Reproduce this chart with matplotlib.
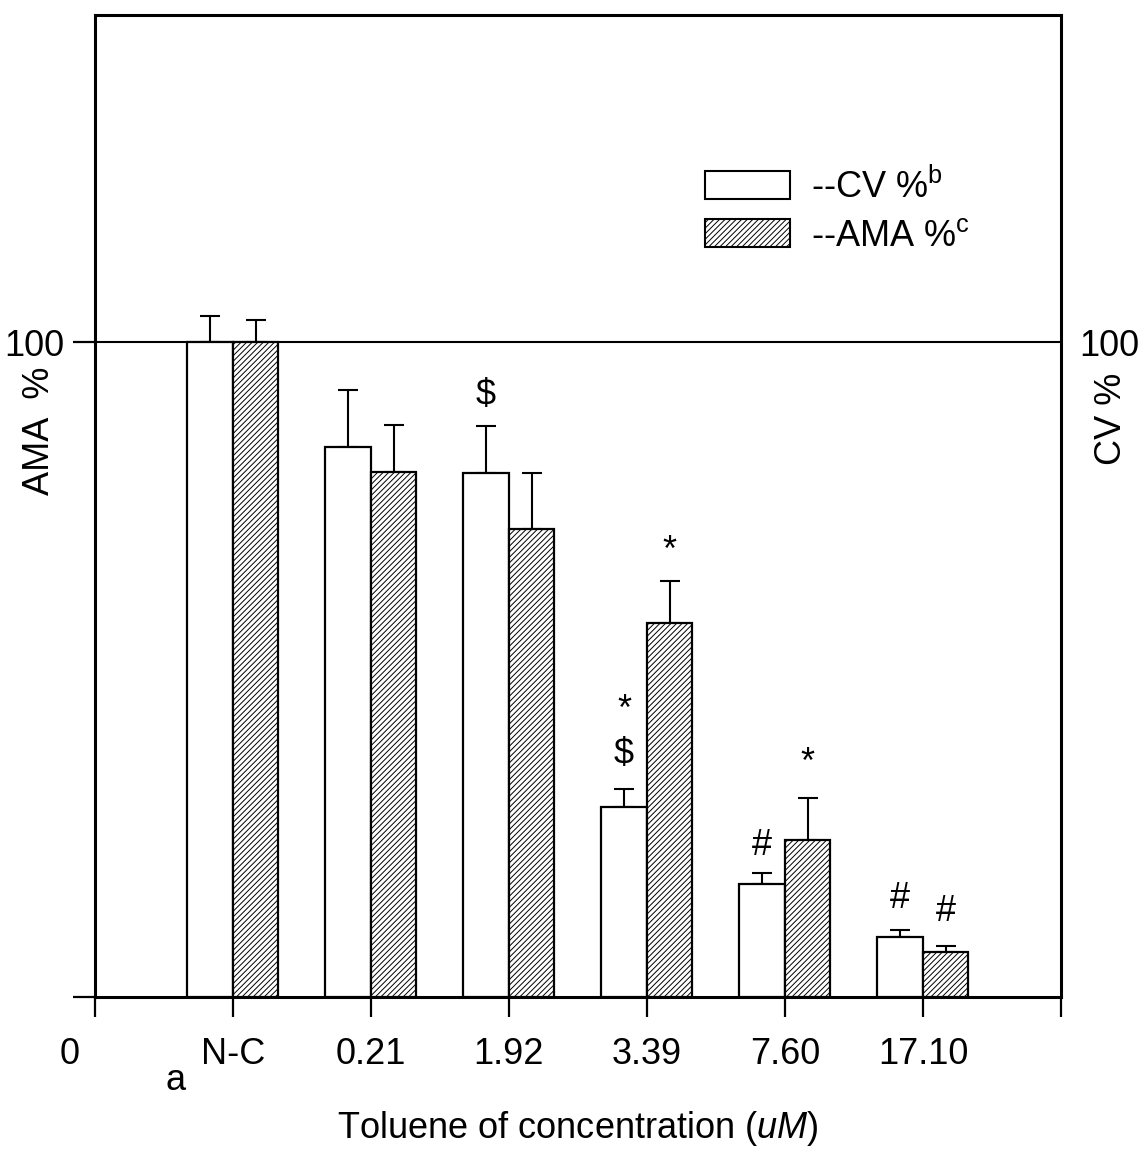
import matplotlib
matplotlib.use("Agg")
import matplotlib.pyplot as plt
from matplotlib.patches import Patch
import numpy as np

plt.rcParams['font.family'] = ['Liberation Sans', 'DejaVu Sans']
plt.rcParams['mathtext.fontset'] = 'custom'
plt.rcParams['mathtext.rm'] = 'Liberation Sans'
plt.rcParams['mathtext.it'] = 'Liberation Sans:italic'
plt.rcParams['hatch.linewidth'] = 0.7

# data
groups = ['N-C', '0.21', '1.92', '3.39', '7.60', '17.10']
cv = [100, 84.0, 80.0, 29.0, 17.3, 9.2]
cv_err = [4.0, 8.7, 7.2, 2.8, 1.7, 1.0]
ama = [100, 80.2, 71.5, 57.1, 24.0, 6.9]
ama_err = [3.4, 7.2, 8.5, 6.4, 6.4, 0.9]
# significance marks: (group index, series, y, symbol)
marks = [(2, 'cv', 91.9, '$'), (3, 'cv', 37.0, '$'), (3, 'cv', 43.8, '*'),
         (3, 'ama', 68.0, '*'), (4, 'cv', 23.2, '#'), (4, 'ama', 35.6, '*'),
         (5, 'cv', 15.1, '#'), (5, 'ama', 13.0, '#')]

fs = 26
w = 0.33
x = np.arange(1, len(groups) + 1)

fig = plt.figure(figsize=(11.44, 11.74), dpi=100)
ax = fig.add_axes([0.0830, 0.1508, 0.8444, 0.8365])

ax.bar(x - w / 2, cv, w, color='white', edgecolor='black', linewidth=1.6, zorder=3)
ax.bar(x + w / 2, ama, w, color='white', edgecolor='black', linewidth=1.6,
       hatch='//////', zorder=3)
ax.errorbar(x - w / 2, cv, yerr=[np.zeros(len(cv)), cv_err], fmt='none',
            ecolor='black', elinewidth=1.5, capsize=7.2, capthick=1.5, zorder=2)
ax.errorbar(x + w / 2, ama, yerr=[np.zeros(len(ama)), ama_err], fmt='none',
            ecolor='black', elinewidth=1.5, capsize=7.2, capthick=1.5, zorder=2)
ax.axhline(100, color='black', lw=1.5, zorder=1)

for gi, ser, yv, sym in marks:
    xx = x[gi] - w / 2 if ser == 'cv' else x[gi] + w / 2
    ax.text(xx, yv, sym, ha='center', va='center', fontsize=fs)

ax.set_xlim(0, 7)
ax.set_ylim(0, 150)
ax.set_xticks(np.arange(0, 8))
ax.set_xticklabels([''] + groups + [''], fontsize=fs)
ax.set_yticks([0, 100])
ax.set_yticklabels(['', '100'], fontsize=fs)
ax.tick_params(axis='x', direction='out', length=14.5, width=1.6, pad=14)
ax.tick_params(axis='y', direction='out', length=16, width=1.6, pad=6)
for s in ax.spines.values():
    s.set_linewidth(2.2)

# odd placements of the "0" and "a" labels
ax.annotate('0', xy=(0, 0), xytext=(-25, -58), textcoords='offset pixels',
            ha='center', va='center', fontsize=fs)
ax.annotate('a', xy=(1, 0), xytext=(-57, -84), textcoords='offset pixels',
            ha='center', va='center', fontsize=fs)

ax.text(-0.057, 0.577, 'AMA  %', transform=ax.transAxes, rotation=90,
        ha='center', va='center', fontsize=fs)
ax.text(1.05, 0.662, '100', transform=ax.transAxes, ha='center', va='center',
        fontsize=fs)
ax.text(1.052, 0.589, 'CV %', transform=ax.transAxes, rotation=90,
        ha='center', va='center', fontsize=fs)
ax.set_xlabel(r'Toluene of concentration $\mathit{(uM)}$', fontsize=fs, labelpad=27)

handles = [Patch(facecolor='white', edgecolor='black', linewidth=1.5),
           Patch(facecolor='white', edgecolor='black', linewidth=1.5, hatch='//////')]
ax.legend(handles, [r'--CV %$^{\mathrm{b}}$', r'--AMA %$^{\mathrm{c}}$'],
          loc='upper left', bbox_to_anchor=(0.6125, 0.862), frameon=False,
          fontsize=fs, handlelength=2.35, handleheight=0.8, labelspacing=0.36,
          handletextpad=0.6, borderpad=0)

fig.savefig('out.png', dpi=100)
